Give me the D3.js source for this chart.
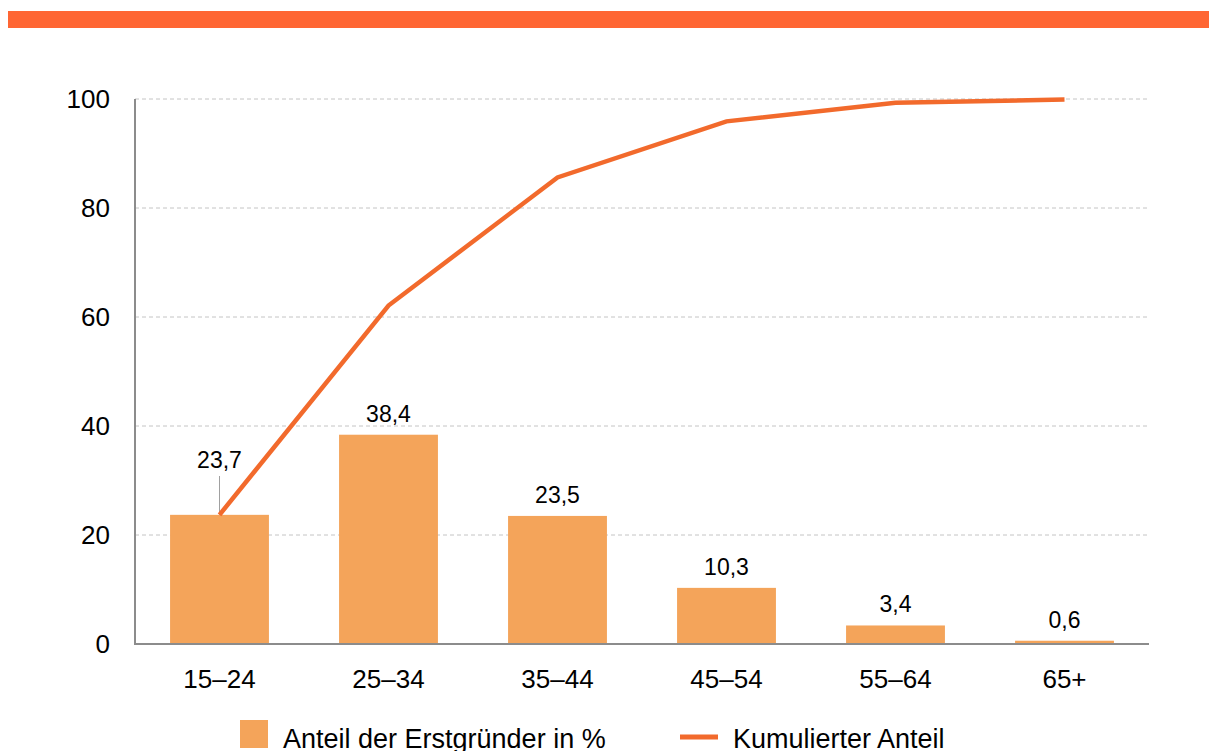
<!DOCTYPE html>
<html>
<head>
<meta charset="utf-8">
<script src="https://cdn.jsdelivr.net/npm/d3@7"></script>
<style>
  body { margin: 0; background: #fff; }
  text { font-family: "Liberation Sans", Arial, sans-serif; }
</style>
</head>
<body>
<svg id="svg" width="1209" height="751"></svg>
<script>
const categories = ["15–24", "25–34", "35–44", "45–54", "55–64", "65+"];
const shares = [23.7, 38.4, 23.5, 10.3, 3.4, 0.6];
const cumulative = [23.7, 62.1, 85.6, 95.9, 99.3, 99.9];
const shareLabels = ["23,7", "38,4", "23,5", "10,3", "3,4", "0,6"];
const yTicks = [0, 20, 40, 60, 80, 100];

const barColor = "#F4A45A";
const lineColor = "#F26A2C";

const svg = d3.select("#svg");

// top band
svg.append("rect")
    .attr("x", 8).attr("y", 11)
    .attr("width", 1201).attr("height", 17)
    .attr("fill", "#FF6633");

const plotLeft = 135, plotRight = 1149, plotTop = 99, plotBottom = 644;

const x = d3.scaleBand()
    .domain(categories)
    .range([plotLeft, plotRight])
    .paddingInner(0.415)
    .paddingOuter(0.2075);

const y = d3.scaleLinear().domain([0, 100]).range([plotBottom, plotTop]);

// gridlines
svg.append("g")
    .selectAll("line")
    .data(yTicks.filter(d => d > 0))
    .enter()
    .append("line")
    .attr("x1", plotLeft).attr("x2", plotRight)
    .attr("y1", d => y(d)).attr("y2", d => y(d))
    .attr("stroke", "#c4c4c4")
    .attr("stroke-width", 1)
    .attr("stroke-dasharray", "4,3");

// y tick labels
svg.append("g")
    .selectAll("text")
    .data(yTicks)
    .enter()
    .append("text")
    .attr("x", 110)
    .attr("y", d => y(d) + 9)
    .attr("text-anchor", "end")
    .attr("font-size", 26)
    .attr("fill", "#000")
    .text(d => d);

// bars
svg.append("g")
    .selectAll("rect")
    .data(shares)
    .enter()
    .append("rect")
    .attr("x", (d, i) => x(categories[i]))
    .attr("y", d => y(d))
    .attr("width", x.bandwidth())
    .attr("height", d => plotBottom - y(d))
    .attr("fill", barColor);

// axes
svg.append("line")
    .attr("x1", plotLeft).attr("x2", plotLeft)
    .attr("y1", plotTop).attr("y2", plotBottom + 1)
    .attr("stroke", "#8c8c8c").attr("stroke-width", 2);
svg.append("line")
    .attr("x1", plotLeft - 1).attr("x2", plotRight)
    .attr("y1", plotBottom).attr("y2", plotBottom)
    .attr("stroke", "#8c8c8c").attr("stroke-width", 2);

// x tick labels
svg.append("g")
    .selectAll("text")
    .data(categories)
    .enter()
    .append("text")
    .attr("x", d => x(d) + x.bandwidth() / 2)
    .attr("y", 688)
    .attr("text-anchor", "middle")
    .attr("font-size", 26)
    .text(d => d);

// leader line for first label
const cx = i => x(categories[i]) + x.bandwidth() / 2;
svg.append("line")
    .attr("x1", cx(0)).attr("x2", cx(0))
    .attr("y1", 476).attr("y2", y(shares[0]))
    .attr("stroke", "#a0a0a0").attr("stroke-width", 1);

// data labels
svg.append("g")
    .selectAll("text")
    .data(shares)
    .enter()
    .append("text")
    .attr("x", (d, i) => cx(i))
    .attr("y", (d, i) => i === 0 ? 468 : y(d) - 13)
    .attr("text-anchor", "middle")
    .attr("font-size", 23)
    .text((d, i) => shareLabels[i]);

// cumulative line
const line = d3.line()
    .x((d, i) => cx(i))
    .y(d => y(d));

svg.append("path")
    .datum(cumulative)
    .attr("d", line)
    .attr("fill", "none")
    .attr("stroke", lineColor)
    .attr("stroke-width", 4.5);

// legend
svg.append("rect")
    .attr("x", 240).attr("y", 720)
    .attr("width", 28).attr("height", 28)
    .attr("fill", barColor);
svg.append("text")
    .attr("x", 283).attr("y", 748)
    .attr("font-size", 27)
    .text("Anteil der Erstgründer in %");

svg.append("line")
    .attr("x1", 680).attr("x2", 718)
    .attr("y1", 737).attr("y2", 737)
    .attr("stroke", lineColor).attr("stroke-width", 5);
svg.append("text")
    .attr("x", 733).attr("y", 748)
    .attr("font-size", 27)
    .text("Kumulierter Anteil");
</script>
</body>
</html>
